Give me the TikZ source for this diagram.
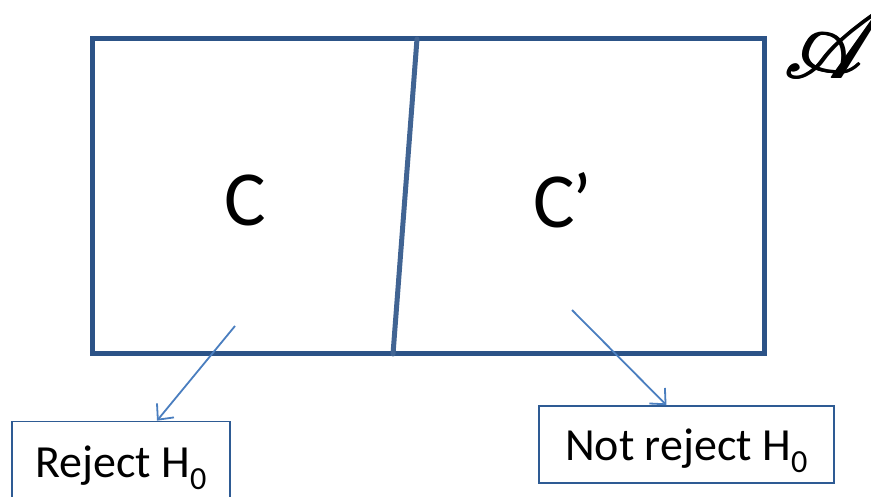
\documentclass[tikz,border=0pt]{standalone}
\usepackage{fontspec}
\usepackage{mathrsfs}
\setmainfont{Carlito}
\usetikzlibrary{arrows.meta,calc}
\definecolor{framecol}{HTML}{2C5387}
\definecolor{arrowcol}{HTML}{4A7EBF}
\definecolor{boxcol}{HTML}{2E5B94}
\tikzset{
  region/.style={font=\fontsize{78}{84}\selectfont, inner sep=0pt},
  decision/.style={draw=boxcol, line width=1.6pt, fill=white, inner sep=0pt,
                   font=\fontsize{46}{50}\selectfont, text height=40pt},
  pointer/.style={draw=arrowcol, line width=1.8pt,
                  -{Straight Barb[length=12pt,width=22pt,line width=1.8pt]}},
  sigalg/.style={anchor=west, inner sep=0pt}
}
\newcommand{\sigmaletter}{\scalebox{10}{$\mathscr{A}$}}
\begin{document}
\begin{tikzpicture}[x=1pt,y=-1pt]
  \useasboundingbox (0,0) rectangle (871,497);
  \clip (0,0) rectangle (871,497);
  % sample space with its partition into C and C'
  \node[draw=framecol, line width=5pt, minimum width=672pt, minimum height=315pt,
        inner sep=0pt] (frame) at (428,196.5) {};
  \coordinate (dtop) at (417,39);
  \coordinate (dbot) at (393,354);
  \draw[framecol!90!white, line width=5pt, line cap=round] (dtop) -- (dbot);
  \node[region] (c) at (245,200) {C};
  \node[region] (cp) at (563,200) {C\kern-3pt’};
  % the sigma-algebra symbol, set heavy by overprinting
  \node[sigalg] (alg)  at (783,44)   {\sigmaletter};
  \node[sigalg] (alg2) at (784.2,44) {\sigmaletter};
  \node[sigalg] (alg3) at (785.4,44) {\sigmaletter};
  \node[sigalg] (alg4) at (784.2,43) {\sigmaletter};
  % decisions
  \node[decision, minimum width=218pt, minimum height=82pt, text depth=11pt]
    (reject) at (121,462.5) {Reject H\textsubscript{0}};
  \node[decision, minimum width=295pt, minimum height=77pt, text depth=9pt]
    (keep) at (686.5,444.5) {Not reject H\textsubscript{0}};
  \coordinate (cfrom) at (235,326);
  \coordinate (cpfrom) at (572,310);
  \draw[pointer] (cfrom) -- ($(reject.north)+(36,0)$);
  \draw[pointer] (cpfrom) -- ($(keep.north)+(-20,0)$);
\end{tikzpicture}
\end{document}
